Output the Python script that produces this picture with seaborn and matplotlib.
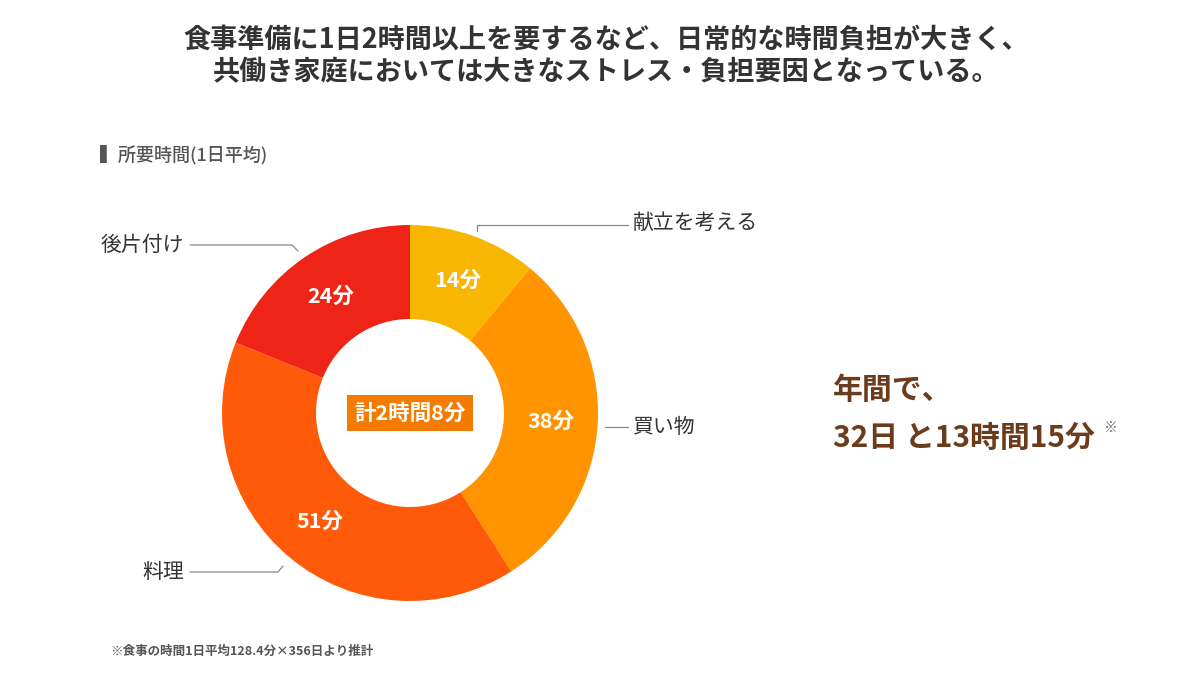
import numpy as np
import matplotlib
matplotlib.use("Agg")
import matplotlib.pyplot as plt
import seaborn as sns

# data
categories = ["献立を考える", "買い物", "料理", "後片付け"]
minutes = [14, 38, 51, 24]
colors = ["#F9B600", "#FF9300", "#FF5A0A", "#EE2417"]
total_label = "計2時間8分"

sns.set_theme(style="white")
plt.rcParams['font.family'] = ['Noto Sans CJK JP', 'DejaVu Sans']

W, H = 1200, 694
fig = plt.figure(figsize=(12, 6.94), dpi=100)
ax = fig.add_axes([0, 0, 1, 1])
ax.set_xlim(0, W)
ax.set_ylim(0, H)
ax.set_aspect('equal')
ax.axis('off')

def Y(y):
    return H - y

cx, cy, R = 410, Y(413), 188
wedges, _ = ax.pie(minutes, colors=colors, startangle=90, counterclock=False,
                   center=(cx, cy), radius=R,
                   wedgeprops=dict(width=R * 0.5, linewidth=0))
ax.set_xlim(0, W)
ax.set_ylim(0, H)

# values inside the ring
for w, v in zip(wedges, minutes):
    ang = np.deg2rad((w.theta1 + w.theta2) / 2)
    r = R * 0.75
    ax.text(cx + r * np.cos(ang), cy + r * np.sin(ang), f"{v}分",
            ha='center', va='center', color='white', fontsize=15.5,
            fontweight='bold')

# center total box
ax.text(cx, Y(413), total_label, ha='center', va='center', color='white',
        fontsize=15.5, fontweight='bold',
        bbox=dict(boxstyle='square,pad=0.33', fc='#F57A00', ec='none'))

# leader lines + category labels
line_kw = dict(color='#888888', lw=0.9)
lab_kw = dict(va='center', fontsize=15, color='#333333')
ax.plot([477, 477, 628], [Y(231), Y(225), Y(225)], **line_kw)
ax.text(633, Y(223), categories[0], ha='left', **lab_kw)

ax.plot([605, 628], [Y(427), Y(427)], **line_kw)
ax.text(633, Y(427), categories[1], ha='left', **lab_kw)

ax.plot([190, 278, 283], [Y(572), Y(572), Y(566)], **line_kw)
ax.text(184, Y(572), categories[2], ha='right', **lab_kw)

ax.plot([190, 292, 298], [Y(245), Y(245), Y(251)], **line_kw)
ax.text(184, Y(245), categories[3], ha='right', **lab_kw)

# title
ax.text(606, Y(40), "食事準備に1日2時間以上を要するなど、日常的な時間負担が大きく、",
        ha='center', va='center', fontsize=19.5, fontweight='bold', color='#333333')
ax.text(606, Y(72), "共働き家庭においては大きなストレス・負担要因となっている。",
        ha='center', va='center', fontsize=19.5, fontweight='bold', color='#333333')

# subtitle
ax.text(100, Y(155), "▍所要時間(1日平均)", ha='left', va='center', fontsize=13,
        fontweight='medium', color='#555555')

# right annotation
brown = '#6B3B1C'
ax.text(833, Y(390), "年間で、", ha='left', va='center', fontsize=21.5,
        fontweight='bold', color=brown)
ax.text(833, Y(438), "32日 と13時間15分", ha='left', va='center', fontsize=21.5,
        fontweight='bold', color=brown)
ax.text(1104, Y(428), "※", ha='left', va='center', fontsize=10, color='#777777')

# footnote
ax.text(110, Y(651), "※食事の時間1日平均128.4分×356日より推計", ha='left', va='center',
        fontsize=9, fontweight='bold', color='#555555')

fig.savefig("out.png", dpi=100, facecolor='white')
